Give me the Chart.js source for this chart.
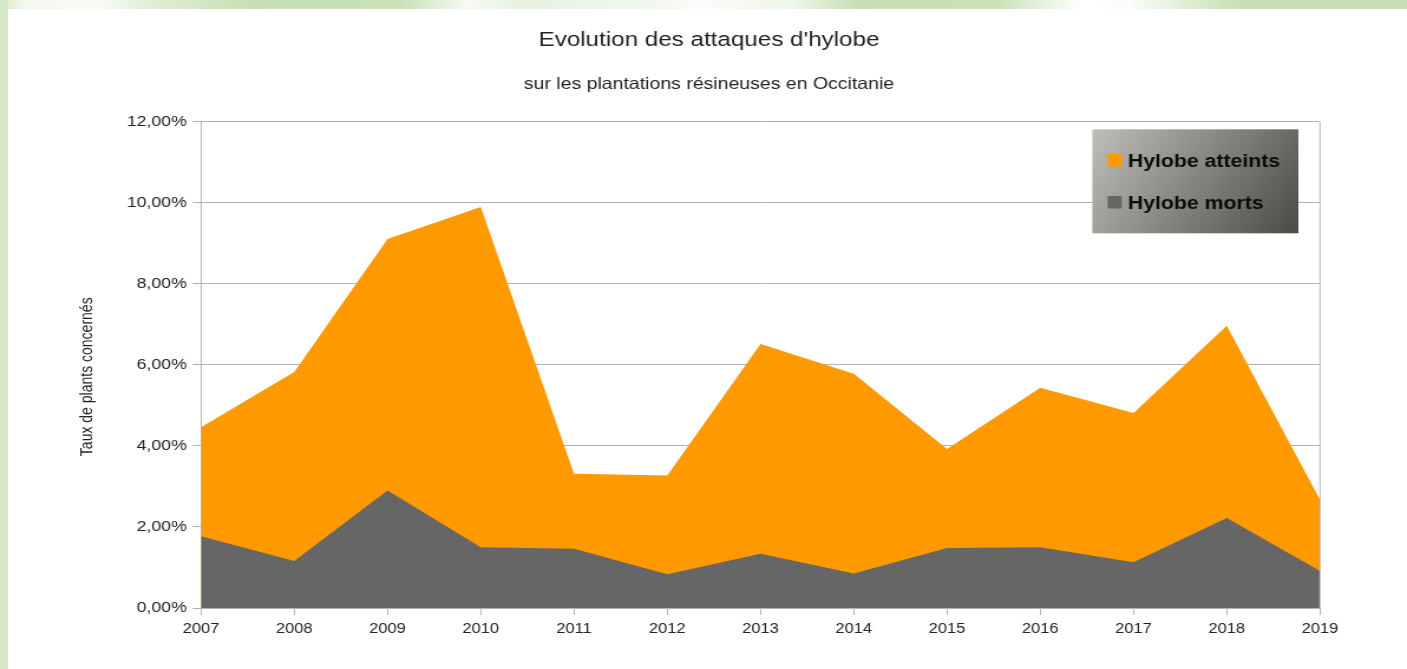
<!DOCTYPE html>
<html>
<head>
<meta charset="utf-8">
<script src="https://cdn.jsdelivr.net/npm/chart.js@4"></script>
<style>
html,body{margin:0;padding:0;background:#fff;width:1407px;height:669px;overflow:hidden}
#topband{position:absolute;left:0;top:0;width:1407px;height:9px;
background:linear-gradient(to right,#d8ebcc 0px,#f3f9ef 27px,#f8fbf5 100px,#e2efd8 147px,#c6e0b4 250px,#c8e1b7 400px,#f7fbf4 469px,#e8f2e0 520px,#f2f8ee 650px,#fafcf8 700px,#f0f7eb 790px,#c6e0b4 858px,#c8e1b6 993px,#ffffff 1083px,#fbfdf9 1128px,#c6e0b4 1241px,#c6e0b4 1407px)}
#leftband{position:absolute;left:0;top:0;width:8px;height:669px;background:#d5e8c8}
#c{position:absolute;left:0;top:0}
</style>
</head>
<body>
<div id="topband"></div>
<div id="leftband"></div>
<canvas id="c" width="1192" height="669" style="width:1407px;height:669px"></canvas>
<script>
// ---- data ----
const years = ['2007','2008','2009','2010','2011','2012','2013','2014','2015','2016','2017','2018','2019'];
const atteints = [4.46, 5.82, 9.10, 9.89, 3.31, 3.27, 6.51, 5.78, 3.92, 5.43, 4.81, 6.96, 2.67];
const morts    = [1.77, 1.16, 2.90, 1.50, 1.46, 0.83, 1.34, 0.85, 1.48, 1.50, 1.13, 2.22, 0.91];
const seriesNames = ['Hylobe atteints', 'Hylobe morts'];
const yMin = 0, yMax = 12, yStep = 2;
const titleText = 'Evolution des attaques d\'hylobe';
const subtitleText = 'sur les plantations résineuses en Occitanie';
const yAxisTitle = 'Taux de plants concernés';

const ORANGE = '#ff9900';
const GREY = '#666666';
const GRID = '#b3b3b3';
const FONT = '"Liberation Sans", Arial, sans-serif';

const rightBorder = {
  id: 'rightBorder',
  afterDatasetsDraw(chart) {
    const {ctx, chartArea: a} = chart;
    ctx.save();
    ctx.strokeStyle = GRID;
    ctx.lineWidth = 1;
    ctx.beginPath();
    ctx.moveTo(a.right, a.top);
    ctx.lineTo(a.right, a.bottom);
    ctx.stroke();
    ctx.restore();
  }
};

const yTitlePlugin = {
  id: 'yTitlePlugin',
  afterDraw(chart) {
    const {ctx, chartArea: a} = chart;
    ctx.save();
    ctx.translate(a.left - 96.6, (a.top + a.bottom) / 2 + 12);
    ctx.rotate(-Math.PI / 2);
    ctx.font = '14px ' + FONT;
    ctx.fillStyle = '#222222';
    ctx.textAlign = 'center';
    ctx.textBaseline = 'middle';
    ctx.fillText(yAxisTitle, 0, 0);
    ctx.restore();
  }
};

const customLegend = {
  id: 'customLegend',
  afterDraw(chart) {
    const {ctx, chartArea: a} = chart;
    const w = 174.6, h = 104;
    const x = a.right - 192.9, y = a.top + 7.8;
    ctx.save();
    const g = ctx.createLinearGradient(x, y, x + w, y + h);
    g.addColorStop(0, '#bfbfb8');
    g.addColorStop(1, '#4b4b46');
    ctx.fillStyle = g;
    ctx.fillRect(x, y, w, h);
    ctx.font = 'bold 18px ' + FONT;
    ctx.textBaseline = 'alphabetic';
    ctx.textAlign = 'left';
    const items = [chart.data.datasets[1], chart.data.datasets[0]];
    items.forEach((ds, i) => {
      const by = y + 37.2 + i * 42;
      ctx.fillStyle = ds.backgroundColor;
      ctx.fillRect(x + 13, by - 12.5, 12, 12.5);
      ctx.fillStyle = '#0a0a0a';
      ctx.fillText(ds.label, x + 30, by);
    });
    ctx.restore();
  }
};

const ctx = document.getElementById('c').getContext('2d');
new Chart(ctx, {
  type: 'line',
  data: {
    labels: years,
    datasets: [
      { label: seriesNames[1], data: morts, backgroundColor: GREY, borderColor: GREY,
        borderWidth: 0, pointRadius: 0, fill: 'origin', tension: 0 },
      { label: seriesNames[0], data: atteints, backgroundColor: ORANGE, borderColor: ORANGE,
        borderWidth: 0, pointRadius: 0, fill: 'origin', tension: 0 }
    ]
  },
  options: {
    responsive: false,
    devicePixelRatio: 1,
    animation: false,
    layout: { padding: { left: 83, right: 73.7, top: 0, bottom: 21 } },
    plugins: {
      legend: { display: false },
      tooltip: { enabled: false },
      title: {
        display: true, text: titleText, color: '#222222',
        font: { family: FONT, size: 20.5, weight: 'normal' },
        padding: { top: 28, bottom: 0 }
      },
      subtitle: {
        display: true, text: subtitleText, color: '#222222',
        font: { family: FONT, size: 16.5, weight: 'normal' },
        padding: { top: 22, bottom: 27.1 }
      }
    },
    scales: {
      x: {
        offset: false,
        grid: { display: true, drawOnChartArea: false, color: GRID, tickLength: 7, tickColor: GRID },
        border: { display: true, color: GRID },
        ticks: { color: '#222222', font: { family: FONT, size: 14 }, padding: 6, maxRotation: 0, autoSkip: false },
        afterFit(s) { s.height = 40; }
      },
      y: {
        min: yMin, max: yMax,
        grid: { color: GRID, tickLength: 7, tickColor: GRID },
        border: { display: true, color: GRID },
        ticks: {
          stepSize: yStep, color: '#222222', font: { family: FONT, size: 15 }, padding: 5,
          callback: v => v.toFixed(2).replace('.', ',') + '%'
        },
        title: { display: false },
        afterFit(s) { s.width = 87.3; }
      }
    }
  },
  plugins: [rightBorder, yTitlePlugin, customLegend]
});
</script>
</body>
</html>
